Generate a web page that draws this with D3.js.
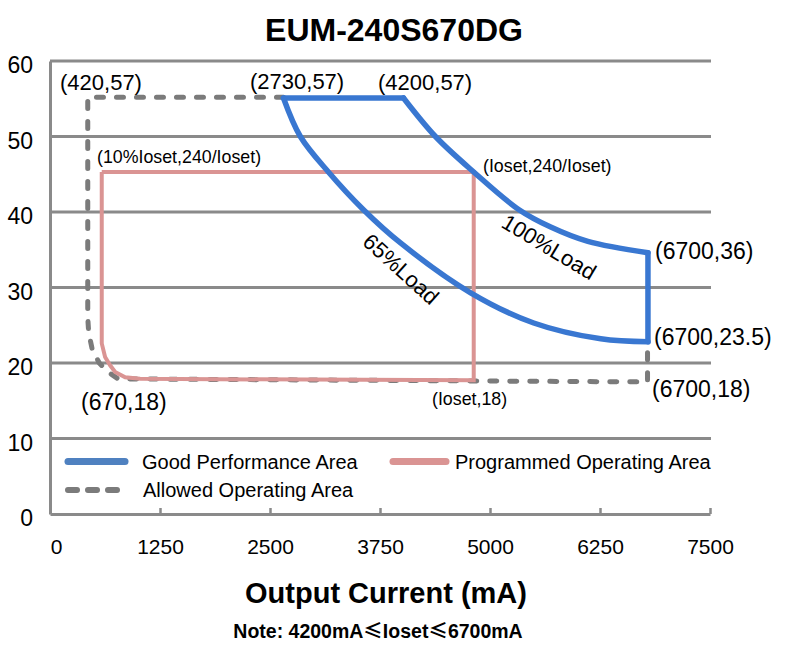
<!DOCTYPE html>
<html>
<head>
<meta charset="utf-8">
<script src="https://cdn.jsdelivr.net/npm/d3@7"></script>
<style>
  body { margin: 0; background: #fff; }
  text { font-family: "Liberation Sans", Arial, sans-serif; }
</style>
</head>
<body>
<div id="chart"></div>
<script>
// values (mA, V)
const xTicks = [0, 1250, 2500, 3750, 5000, 6250, 7500];
const yTicks = [0, 10, 20, 30, 40, 50, 60];

const allowedArea = [
  [2653, 55.2], [429, 55.2], [429, 26], [440, 24], [480, 21.8], [560, 20.0],
  [660, 18.8], [774, 17.9], [6680, 17.5], [6790, 17.5], [6790, 22.8]
];
const programmedArea = [
  [588, 45.3], [4815, 45.3], [4815, 17.7], [1024, 17.9], [854, 18.1],
  [740, 18.8], [683, 19.7], [626, 20.8], [588, 22.6], [588, 45.3]
];
const goodTopRight = [[2653, 55.1], [4017, 55.1]];
const goodRightEdge = [[6795, 34.6], [6795, 22.8]];
const load100 = [
  [4017, 55.1], [4380, 50.0], [4815, 45.3], [5330, 40.3], [5690, 38.0],
  [6112, 36.1], [6795, 34.6]
];
const load65 = [
  [2653, 55.1], [2845, 50.0], [3164, 45.3], [3562, 40.3], [3983, 35.9],
  [4780, 29.3], [5497, 25.3], [6259, 23.2], [6795, 22.8]
];

const pointLabels = [
  { text: "(420,57)", x: 60, y: 90, size: 22 },
  { text: "(2730,57)", x: 250, y: 89, size: 22 },
  { text: "(4200,57)", x: 378, y: 90, size: 22 },
  { text: "(10%Ioset,240/Ioset)", x: 97, y: 163, size: 17.8 },
  { text: "(Ioset,240/Ioset)", x: 483, y: 172, size: 17.8 },
  { text: "(6700,36)", x: 655, y: 259, size: 23 },
  { text: "(6700,23.5)", x: 654, y: 345, size: 23 },
  { text: "(6700,18)", x: 652, y: 397, size: 23 },
  { text: "(670,18)", x: 81, y: 410, size: 23 },
  { text: "(Ioset,18)", x: 432, y: 405, size: 17.8 }
];

const width = 786;
const height = 665;
const margin = { top: 61, right: 76, bottom: 151, left: 50 };

const blue = "#3977d1";
const pink = "#da9493";
const grey = "#7b7b7b";
const gridGrey = "#8a8a8a";

const svg = d3.select("#chart")
  .append("svg")
  .attr("width", width)
  .attr("height", height);

const x = d3.scaleLinear()
  .domain([0, 7500])
  .range([margin.left, width - margin.right]);
const y = d3.scaleLinear()
  .domain([0, 60])
  .range([height - margin.bottom, margin.top]);

// grid lines
svg.append("g")
  .selectAll("line")
  .data(yTicks.filter(d => d > 0))
  .join("line")
    .attr("x1", x(0))
    .attr("x2", x(7500) + 1)
    .attr("y1", d => y(d))
    .attr("y2", d => y(d))
    .attr("stroke", gridGrey)
    .attr("stroke-width", 3);

// y axis
function yAxis(g) {
  g.attr("transform", `translate(${margin.left},0)`)
    .call(d3.axisLeft(y).tickValues(yTicks).tickSize(0).tickPadding(17))
    .call(g => g.select(".domain").attr("stroke", gridGrey).attr("stroke-width", 3))
    .call(g => g.selectAll("text")
      .attr("font-size", "23px")
      .attr("fill", "#000")
      .attr("dy", "0.52em")
      .style("font-family", "Liberation Sans, Arial, sans-serif"));
}

// x axis
function xAxis(g) {
  g.attr("transform", `translate(0,${y(0)})`)
    .call(d3.axisBottom(x).tickValues(xTicks).tickFormat(d3.format("d"))
      .tickSize(-6).tickSizeOuter(0).tickPadding(0))
    .call(g => g.select(".domain").attr("stroke", gridGrey).attr("stroke-width", 3))
    .call(g => g.selectAll(".tick line").attr("stroke", gridGrey).attr("stroke-width", 2.5))
    .call(g => g.selectAll("text")
      .attr("font-size", "21px")
      .attr("fill", "#000")
      .attr("y", 40)
      .attr("dy", 0)
      .attr("dx", (d, i) => i === 0 ? 6 : 0)
      .style("font-family", "Liberation Sans, Arial, sans-serif"));
}

svg.append("g").call(yAxis);
svg.append("g").call(xAxis);

const lineLinear = d3.line().x(d => x(d[0])).y(d => y(d[1]));
const lineCurve = d3.line().x(d => x(d[0])).y(d => y(d[1]))
  .curve(d3.curveCatmullRom.alpha(0.5));

// allowed operating area (dashed)
svg.append("path")
  .attr("d", lineLinear(allowedArea))
  .attr("fill", "none")
  .attr("stroke", grey)
  .attr("stroke-width", 5)
  .attr("stroke-linecap", "round")
  .attr("stroke-linejoin", "round")
  .attr("stroke-dasharray", "7,13");

// programmed operating area
svg.append("path")
  .attr("d", lineLinear(programmedArea))
  .attr("fill", "none")
  .attr("stroke", pink)
  .attr("stroke-width", 4);

// good performance area
const good = svg.append("g")
  .attr("fill", "none")
  .attr("stroke", blue)
  .attr("stroke-width", 5.5)
  .attr("stroke-linecap", "round")
  .attr("stroke-linejoin", "round");
good.append("path").attr("d", lineLinear(goodTopRight));
good.append("path").attr("d", lineLinear(goodRightEdge));
good.append("path").attr("d", lineCurve(load100));
good.append("path").attr("d", lineCurve(load65));

// point labels
svg.append("g")
  .selectAll("text")
  .data(pointLabels)
  .join("text")
    .attr("x", d => d.x)
    .attr("y", d => d.y)
    .attr("font-size", d => d.size + "px")
    .text(d => d.text);

// curve labels
svg.append("text")
  .attr("transform", "translate(549,247) rotate(31)")
  .attr("text-anchor", "middle")
  .attr("dy", "0.35em")
  .attr("font-size", "22px")
  .text("100%Load");
svg.append("text")
  .attr("transform", "translate(401,269) rotate(42)")
  .attr("text-anchor", "middle")
  .attr("dy", "0.35em")
  .attr("font-size", "22px")
  .text("65%Load");

// legend
const legend = svg.append("g").attr("font-size", "20px");
legend.append("line")
  .attr("x1", 68).attr("x2", 125).attr("y1", 461.5).attr("y2", 461.5)
  .attr("stroke", "#4f81c0").attr("stroke-width", 7).attr("stroke-linecap", "round");
legend.append("text").attr("x", 142).attr("y", 468.5).text("Good Performance Area");
legend.append("line")
  .attr("x1", 393).attr("x2", 446).attr("y1", 461.5).attr("y2", 461.5)
  .attr("stroke", pink).attr("stroke-width", 7).attr("stroke-linecap", "round");
legend.append("text").attr("x", 455).attr("y", 468.5).text("Programmed Operating Area");
legend.append("line")
  .attr("x1", 68).attr("x2", 122).attr("y1", 490).attr("y2", 490)
  .attr("stroke", grey).attr("stroke-width", 6).attr("stroke-linecap", "round")
  .attr("stroke-dasharray", "9,11");
legend.append("text").attr("x", 143).attr("y", 497).text("Allowed Operating Area");

// titles
svg.append("text")
  .attr("x", 394).attr("y", 41)
  .attr("text-anchor", "middle")
  .attr("font-size", "32px")
  .attr("font-weight", "bold")
  .text("EUM-240S670DG");

svg.append("text")
  .attr("x", 386).attr("y", 603)
  .attr("text-anchor", "middle")
  .attr("font-size", "29px")
  .attr("font-weight", "bold")
  .text("Output Current (mA)");

const note = svg.append("text")
  .attr("x", 378).attr("y", 638)
  .attr("text-anchor", "middle")
  .attr("font-size", "19.5px")
  .attr("font-weight", "bold");
note.append("tspan").text("Note:  4200mA");
note.append("tspan").style("font-family", "Noto Sans CJK SC").text("≤");
note.append("tspan").text("Ioset");
note.append("tspan").style("font-family", "Noto Sans CJK SC").text("≤");
note.append("tspan").text("6700mA");
</script>
</body>
</html>
